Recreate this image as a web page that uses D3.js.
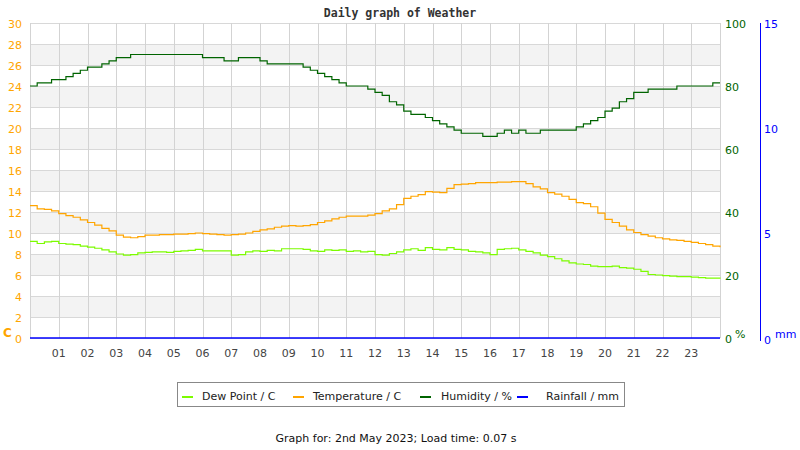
<!DOCTYPE html>
<html><head><meta charset="utf-8">
<script src="https://cdn.jsdelivr.net/npm/d3@7"></script>
<style>body{margin:0;background:#fff}svg{display:block}</style>
</head><body>
<svg id="c" width="800" height="450"></svg>
<script>
// Time in hours (every 15 minutes)
const times = d3.range(0, 24.001, 0.25);
const temperature = [12.6,12.3,12.25,12.1,11.85,11.65,11.5,11.25,11.0,10.75,10.45,10.2,9.8,9.6,9.55,9.65,
9.8,9.8,9.85,9.85,9.9,9.9,9.95,10.0,9.95,9.9,9.85,9.8,9.85,9.9,10.0,10.15,
10.3,10.4,10.55,10.65,10.7,10.65,10.7,10.8,11.0,11.15,11.35,11.5,11.6,11.6,11.6,11.7,
11.85,12.1,12.3,12.7,13.3,13.5,13.65,13.95,13.9,13.85,14.25,14.6,14.65,14.7,14.8,14.8,
14.8,14.85,14.85,14.9,14.9,14.7,14.4,14.2,13.85,13.7,13.5,13.2,12.9,12.8,12.5,11.9,
11.3,11.0,10.65,10.3,10.05,9.85,9.7,9.55,9.45,9.35,9.3,9.2,9.1,9.0,8.9,8.75,8.65];
const dewPoint = [9.2,9.0,9.15,9.2,9.0,8.95,8.9,8.75,8.65,8.55,8.4,8.2,8.0,7.9,7.95,8.1,
8.15,8.2,8.2,8.15,8.25,8.3,8.35,8.45,8.3,8.3,8.3,8.3,7.9,7.95,8.2,8.3,
8.25,8.35,8.3,8.5,8.5,8.5,8.45,8.3,8.25,8.4,8.35,8.4,8.25,8.3,8.2,8.25,
7.95,7.9,8.05,8.2,8.4,8.5,8.35,8.6,8.45,8.4,8.6,8.45,8.4,8.25,8.2,8.1,
7.95,8.45,8.5,8.55,8.4,8.25,8.1,7.9,7.75,7.55,7.35,7.15,7.05,7.0,6.85,6.8,
6.8,6.85,6.7,6.65,6.55,6.35,6.05,6.0,5.95,5.9,5.85,5.85,5.8,5.75,5.7,5.7,5.65];
const humidity = [80,81,81,82,82,83,84,85,86,86,87,88,89,89,90,90,
90,90,90,90,90,90,90,90,89,89,89,88,88,89,89,89,
88,87,87,87,87,87,86,85,84,83,82,81,80,80,80,79,
78,77,75,74,72,71,71,70,69,68,67,66,65,65,65,64,
64,65,66,65,66,65,65,66,66,66,66,66,67,68,69,70,
72,73,75,76,78,78,79,79,79,79,80,80,80,80,80,81,81];
const rainfall = times.map(() => 0);
const hourLabels = ["01","02","03","04","05","06","07","08","09","10","11","12","13","14","15","16","17","18","19","20","21","22","23"];
const tempTicks = d3.range(0, 31, 2);
const humTicks = [0,20,40,60,80,100];
const rainTicks = [0,5,10,15];
const legendItems = [["Dew Point / C","#7cfc00"],["Temperature / C","#ffa500"],["Humidity / %","#006400"],["Rainfall / mm","#0000ff"]];

const svg = d3.select("#c");
const L = 30, R = 720, T = 23, B = 338;
const x = d3.scaleLinear().domain([0,24]).range([L,R]);
const yT = d3.scaleLinear().domain([0,30]).range([B,T]);
const yH = d3.scaleLinear().domain([0,100]).range([B,T]);
const yR = d3.scaleLinear().domain([0,15]).range([B,T]);
const font = "DejaVu Sans, Verdana, sans-serif";

// bands
for (let v = 2; v < 30; v += 4) {
  svg.append("rect").attr("x", L).attr("width", R-L)
    .attr("y", yT(v+2)).attr("height", yT(v)-yT(v+2)).attr("fill", "#f3f3f3");
}
// horizontal grid
svg.append("g").selectAll("line").data(tempTicks).join("line")
  .attr("x1", L).attr("x2", R).attr("y1", d=>yT(d)+0.5).attr("y2", d=>yT(d)+0.5)
  .attr("stroke", "#d8d8d8").attr("stroke-width", 1);
// vertical grid
svg.append("g").selectAll("line").data(d3.range(0,25)).join("line")
  .attr("x1", d=>Math.round(x(d))+0.5).attr("x2", d=>Math.round(x(d))+0.5).attr("y1", T).attr("y2", B)
  .attr("stroke", "#d3d3d3").attr("stroke-width", 1);

// title
svg.append("text").attr("x", 400).attr("y", 17).attr("text-anchor","middle")
  .attr("font-family","DejaVu Sans Mono, monospace").attr("font-weight","bold").attr("font-size",11.5)
  .attr("fill","#333").text("Daily graph of Weather");

// left axis labels
svg.append("g").selectAll("text").data(tempTicks).join("text")
  .attr("x", 22).attr("y", d=>yT(d)+4.5).attr("text-anchor","end")
  .attr("font-family",font).attr("font-size",11).attr("fill","#ffa500").text(d=>d);
svg.append("text").attr("x",3).attr("y",337).attr("font-family",font).attr("font-weight","bold")
  .attr("font-size",12).attr("fill","#ffa500").text("C");

// humidity axis labels
svg.append("g").selectAll("text").data(humTicks).join("text")
  .attr("x", 725).attr("y", d=>yH(d)+4.5)
  .attr("font-family",font).attr("font-size",11).attr("fill","#006400").text(d=>d);
svg.append("text").attr("x",735).attr("y",338).attr("font-family",font)
  .attr("font-size",11).attr("fill","#006400").text("%");

// rainfall axis
svg.append("line").attr("x1",760.5).attr("x2",760.5).attr("y1",T).attr("y2",B+3)
  .attr("stroke","#0000ff").attr("stroke-width",1);
svg.append("g").selectAll("text").data(rainTicks).join("text")
  .attr("x", 764).attr("y", d=> d===0 ? yR(d)+6 : yR(d)+4.5)
  .attr("font-family",font).attr("font-size",11).attr("fill","#0000ff").text(d=>d);
svg.append("text").attr("x",775).attr("y",338).attr("font-family",font)
  .attr("font-size",11).attr("fill","#0000ff").text("mm");

// hour labels
svg.append("g").selectAll("text").data(hourLabels).join("text")
  .attr("x", (d,i)=>x(i+1)).attr("y", 357).attr("text-anchor","middle")
  .attr("font-family",font).attr("font-size",11).attr("fill","#444").text(d=>d);

// series
const mk = (ys, arr) => d3.line().x((d,i)=>x(times[i])).y(d=>ys(d)).curve(d3.curveStepAfter)(arr);
svg.append("path").attr("d", mk(yR, rainfall)).attr("fill","none").attr("stroke","#0000ff").attr("stroke-width",1.5);
svg.append("path").attr("d", mk(yT, dewPoint)).attr("fill","none").attr("stroke","#7cfc00").attr("stroke-width",1.2);
svg.append("path").attr("d", mk(yT, temperature)).attr("fill","none").attr("stroke","#ffa500").attr("stroke-width",1.2);
svg.append("path").attr("d", mk(yH, humidity)).attr("fill","none").attr("stroke","#006400").attr("stroke-width",1.2);

// legend
svg.append("rect").attr("x",177.5).attr("y",382.5).attr("width",447).attr("height",24)
  .attr("fill","#fff").attr("stroke","#888");
const lineX = [182, 293, 420, 517];
const textX = [202, 313, 441, 546];
const lg = svg.append("g").selectAll("g").data(legendItems).join("g");
lg.append("line").attr("x1",(d,i)=>lineX[i]).attr("x2",(d,i)=>lineX[i]+11).attr("y1",397).attr("y2",397)
  .attr("stroke",d=>d[1]).attr("stroke-width",2);
lg.append("text").attr("x",(d,i)=>textX[i]).attr("y",400).attr("font-family",font).attr("font-size",11)
  .attr("fill","#222").text(d=>d[0]);

// footer
svg.append("text").attr("x",396).attr("y",442).attr("text-anchor","middle")
  .attr("font-family",font).attr("font-size",11).attr("fill","#111")
  .text("Graph for: 2nd May 2023; Load time: 0.07 s");
</script>
</body></html>
